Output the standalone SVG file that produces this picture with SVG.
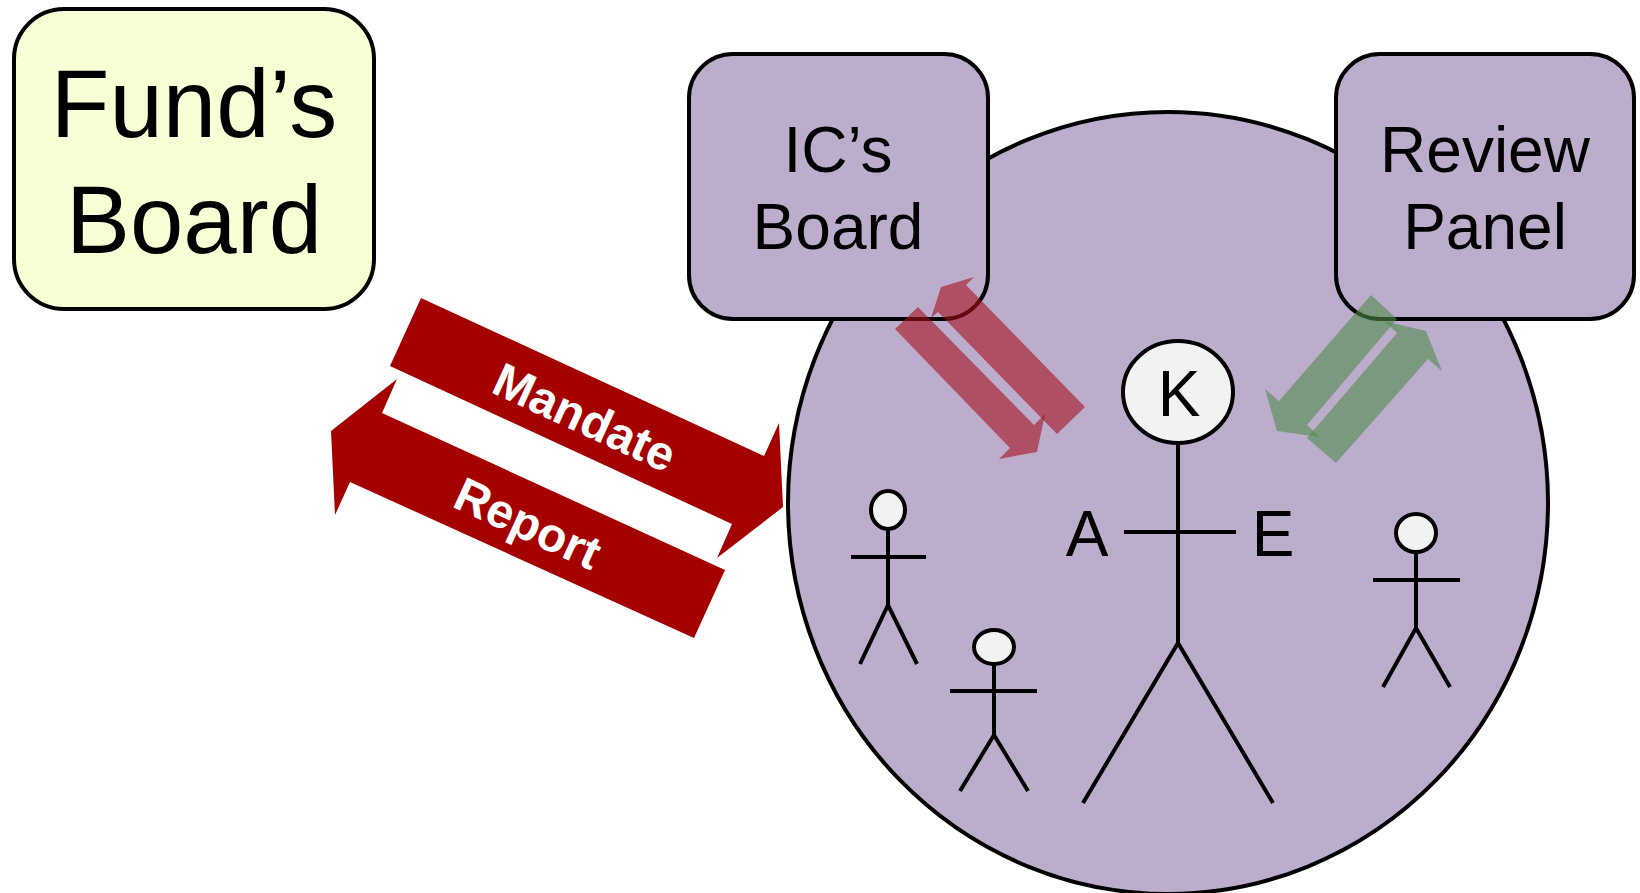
<svg xmlns="http://www.w3.org/2000/svg" width="1640" height="893" viewBox="0 0 1640 893">
<style>
text{font-family:"Liberation Sans",Arial,sans-serif;text-anchor:middle;fill:#000}
.o{stroke:#000;stroke-width:4;fill:#BDADCD}
.s{stroke:#000;stroke-width:4;fill:none}
.h{stroke:#000;stroke-width:4;fill:#F2F2F2}
.solid{fill:#A50000}
.red{fill:#A5101C;fill-opacity:.6}
.green{fill:#4F8C4A;fill-opacity:.6}
.lbl{fill:#fff;font-weight:bold;font-size:48px}
</style>
<g id="organisation"><ellipse class="o" cx="1168" cy="503" rx="380" ry="391"/></g>
<g id="funds-board"><rect x="14" y="9" width="360" height="300" rx="50" ry="50" fill="#F9FFD5" stroke="#000" stroke-width="4"/><text x="194" y="137" font-size="96">Fund’s</text><text x="194" y="253" font-size="96">Board</text></g>
<g id="ics-board"><rect class="o" x="689" y="54" width="299" height="265" rx="44" ry="44"/><text x="838" y="172" font-size="64">IC’s</text><text x="838" y="249" font-size="64">Board</text></g>
<g id="review-panel"><rect class="o" x="1336" y="54" width="298" height="265" rx="44" ry="44"/><text x="1485" y="172" font-size="64">Review</text><text x="1485" y="249" font-size="64">Panel</text></g>
<g id="k-person">
<path class="s" d="M1178 443V643M1124 532H1236M1083 803L1178 643L1273 803"/>
<ellipse class="h" cx="1178" cy="392" rx="55" ry="51"/>
<text x="1179" y="416" font-size="64">K</text>
<text x="1087" y="556" font-size="64">A</text>
<text x="1273" y="556" font-size="64">E</text>
</g>
<g id="person-1"><path class="s" d="M888 529V605M851 557H926M860 664L888 605L917 664"/><ellipse class="h" cx="888" cy="510" rx="17" ry="19"/></g>
<g id="person-2"><path class="s" d="M994 664V735M950 691H1037M960 791L994 735L1028 791"/><ellipse class="h" cx="994" cy="647" rx="20" ry="17"/></g>
<g id="person-3"><path class="s" d="M1416 552V628M1373 580H1460M1383 687L1416 628L1450 687"/><ellipse class="h" cx="1416" cy="533" rx="20" ry="19"/></g>
<g id="connectors">
<polygon class="solid" points="421,298 764,456 779,423 783,507 717,558 732,524 390,366"/>
<polygon class="solid" points="397,379 331,431 335,515 350,482 694,638 725,570 382,413"/>
<polygon class="red" points="1085,407 966,285 974,277 941,287 931,318 938,312 1057,434"/>
<polygon class="red" points="918,307 895,329 1010,448 999,459 1037,452 1045,414 1034,425"/>
<polygon class="green" points="1371,295 1397,319 1307,425 1320,437 1277,431 1265,389 1279,401"/>
<polygon class="green" points="1307,438 1336,463 1428,359 1442,371 1426,331 1384,321 1397,333"/>
<text class="lbl" transform="translate(585 417) rotate(24.7)" x="0" y="17">Mandate</text>
<text class="lbl" transform="translate(528 523) rotate(24.7)" x="0" y="17">Report</text>
</g>
</svg>
